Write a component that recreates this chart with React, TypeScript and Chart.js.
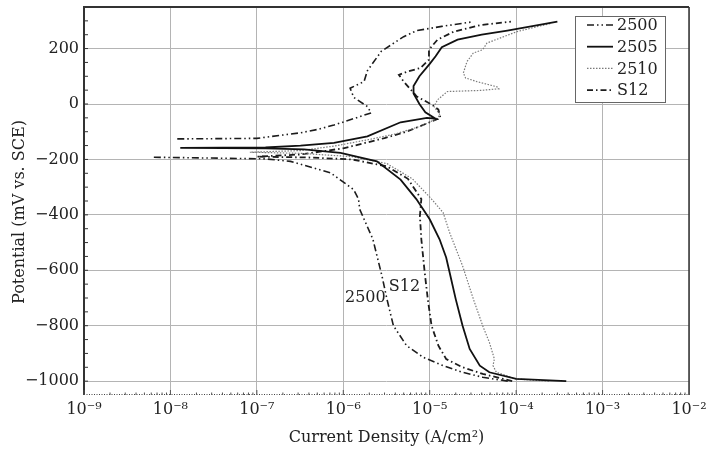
import React, { useEffect, useRef } from "react";
import { Chart, registerables } from "chart.js";

Chart.register(...registerables);

const FONT = "'DejaVu Serif', 'Liberation Serif', serif";
const INK = "#222222";

// ---- data (current density in A/cm², potential in mV vs. SCE) ----
const seriesNames = ["2500", "2505", "2510", "S12"];

const current2500 = [8.0e-5, 4.1e-5, 2.4e-5, 1.43e-5, 8.4e-6, 5.4e-6, 3.8e-6, 3.2e-6, 2.8e-6, 2.2e-6, 1.55e-6, 1.5e-6, 1.32e-6, 7.1e-7, 2.45e-7, 1.26e-7, 6.3e-9, 1.0e-8, 1.2e-8, 1.0e-7, 2.0e-7, 3.2e-7, 5.0e-7, 7.8e-7, 1.2e-6, 2.1e-6, 1.9e-6, 1.32e-6, 1.2e-6, 1.74e-6, 1.9e-6, 2.75e-6, 5.0e-6, 7.1e-6, 1.38e-5, 3.2e-5];
const potential2500 = [-1000, -986, -968, -944, -914, -872, -800, -704, -620, -488, -380, -343, -309, -248, -207, -198, -192, null, -126, -124, -112, -104, -92, -76, -57, -32, -9, 24, 57, 81, 120, 190, 243, 265, 280, 297];

const current2505 = [3.8e-4, 1.0e-4, 4.9e-5, 3.8e-5, 2.9e-5, 2.4e-5, 2.0e-5, 1.7e-5, 1.55e-5, 1.3e-5, 1.0e-5, 7.0e-6, 4.6e-6, 2.45e-6, 9.3e-7, 3.5e-7, 1.26e-7, 1.3e-8, 1.26e-7, 3.2e-7, 7.8e-7, 1.9e-6, 4.6e-6, 9.3e-6, 1.17e-5, 8.9e-6, 7.6e-6, 6.5e-6, 6.5e-6, 7.6e-6, 1.0e-5, 1.17e-5, 1.38e-5, 2.1e-5, 4.0e-5, 7.9e-5, 1.6e-4, 3.0e-4];
const potential2505 = [-1000, -992, -968, -944, -884, -800, -704, -608, -554, -488, -416, -343, -273, -207, -176, -164, -160, -158, -157, -150, -140, -117, -66, -50, -53, -30, 0, 38, 65, 100, 145, 172, 205, 232, 250, 265, 282, 297];

const current2510 = [2.4e-4, 1.0e-4, 5.9e-5, 5.4e-5, 5.6e-5, 4.9e-5, 4.1e-5, 3.2e-5, 2.4e-5, 1.7e-5, 1.43e-5, 1.05e-5, 6.3e-6, 3.2e-6, 1.26e-6, 3.2e-7, 8.3e-8, 3.2e-7, 7.8e-7, 2.0e-6, 4.0e-6, 7.9e-6, 1.17e-5, 1.32e-5, 1.12e-5, 1.23e-5, 1.6e-5, 3.9e-5, 6.3e-5, 6.0e-5, 3.5e-5, 2.6e-5, 2.45e-5, 2.7e-5, 3.2e-5, 4.1e-5, 4.6e-5, 1.02e-4, 1.8e-4, 2.5e-4];
const potential2510 = [-1000, -992, -968, -944, -920, -860, -800, -704, -584, -464, -392, -343, -270, -215, -190, -178, -174, -168, -152, -128, -108, -80, -55, -40, -9, 15, 45, 49, 55, 62, 81, 94, 112, 153, 184, 196, 220, 261, 280, 290];

const currentS12 = [9.0e-5, 7.1e-5, 4.1e-5, 2.4e-5, 1.55e-5, 1.26e-5, 1.05e-5, 9.5e-6, 8.75e-6, 8.0e-6, 7.7e-6, 8.0e-6, 5.6e-6, 3.2e-6, 1.26e-6, 4.0e-7, 1.0e-7, 3.2e-7, 1.0e-6, 3.0e-6, 5.5e-6, 8.5e-6, 1.33e-5, 1.26e-5, 1.07e-5, 7.1e-6, 5.0e-6, 4.4e-6, 5.5e-6, 7.8e-6, 9.8e-6, 9.8e-6, 1.23e-5, 1.9e-5, 3.9e-5, 8.7e-5];
const potentialS12 = [-1000, -992, -974, -950, -920, -872, -800, -704, -608, -488, -404, -343, -270, -225, -200, -193, -190, -182, -160, -123, -99, -75, -50, -20, -3, 27, 81, 105, 117, 130, 160, 196, 232, 261, 285, 297];

const xTickExponents = [-9, -8, -7, -6, -5, -4, -3, -2];
const yTickValues = [-1000, -800, -600, -400, -200, 0, 200];

const noteTexts = ["2500", "S12"];
const noteCurrents = [1.8e-6, 5.1e-6];
const notePotentials = [-701, -660];

const xTitle = "Current Density (A/cm\u00B2)";
const yTitle = "Potential (mV vs. SCE)";

// ---- helpers ----
const toPoints = (cur: number[], pot: (number | null)[]) =>
  cur.map((x, i) => ({ x, y: pot[i] }));

const SUP: Record<string, string> = {
  "-": "\u207B", "0": "\u2070", "1": "\u00B9", "2": "\u00B2", "3": "\u00B3",
  "4": "\u2074", "5": "\u2075", "6": "\u2076", "7": "\u2077", "8": "\u2078", "9": "\u2079",
};
const sup = (n: number) => String(n).split("").map((c) => SUP[c] || c).join("");

const decorPlugin = {
  id: "decor",
  afterDraw(chart: any) {
    const { ctx, chartArea, scales } = chart;
    const { left, right, top, bottom } = chartArea;
    const xs = scales.x;
    const ys = scales.y;
    ctx.save();

    // frame
    ctx.strokeStyle = "#333";
    ctx.setLineDash([]);
    ctx.lineWidth = 2;
    ctx.beginPath();
    ctx.moveTo(left, bottom);
    ctx.lineTo(left, top);
    ctx.lineTo(right, top);
    ctx.stroke();
    ctx.lineWidth = 1.5;
    ctx.beginPath();
    ctx.moveTo(right, top);
    ctx.lineTo(right, bottom);
    ctx.stroke();

    // bottom dotted axis
    ctx.strokeStyle = "#444";
    ctx.lineWidth = 1;
    ctx.setLineDash([1, 1.5]);
    ctx.beginPath();
    ctx.moveTo(left, bottom - 0.5);
    ctx.lineTo(right, bottom - 0.5);
    ctx.stroke();
    ctx.setLineDash([]);
    // minor log ticks on bottom axis
    ctx.lineWidth = 1;
    ctx.strokeStyle = "#555";
    for (let e = -9; e < -2; e++) {
      for (let m = 1; m <= 9; m++) {
        const px = xs.getPixelForValue(m * Math.pow(10, e));
        const len = m === 1 ? 5 : 2.5;
        ctx.beginPath();
        ctx.moveTo(px, bottom);
        ctx.lineTo(px, bottom - len);
        ctx.stroke();
      }
    }
    // minor ticks on left axis
    ctx.strokeStyle = "#333";
    for (let v = -1050; v <= 350; v += 50) {
      const py = ys.getPixelForValue(v);
      if (py < top + 2 || py > bottom - 2) continue;
      ctx.beginPath();
      ctx.moveTo(left, py);
      ctx.lineTo(left + 4, py);
      ctx.stroke();
    }

    // y title
    ctx.fillStyle = INK;
    ctx.font = `16px ${FONT}`;
    ctx.textAlign = "center";
    ctx.textBaseline = "middle";
    ctx.save();
    ctx.translate(20, 212);
    ctx.rotate(-Math.PI / 2);
    ctx.fillText(yTitle, 0, 0);
    ctx.restore();

    // curve notes
    noteTexts.forEach((t, i) => {
      const px = xs.getPixelForValue(noteCurrents[i]);
      const py = ys.getPixelForValue(notePotentials[i]);
      ctx.fillStyle = INK;
      ctx.font = `16px ${FONT}`;
      ctx.textAlign = "center";
      ctx.textBaseline = "middle";
      ctx.fillText(t, px, py);
    });

    // legend
    const bx = right - 114;
    const by = top + 9;
    const bw = 90;
    const bh = 86;
    ctx.fillStyle = "#ffffff";
    ctx.fillRect(bx, by, bw, bh);
    ctx.strokeStyle = "#666";
    ctx.lineWidth = 1;
    ctx.setLineDash([]);
    ctx.strokeRect(bx + 0.5, by + 0.5, bw, bh);
    chart.data.datasets.forEach((ds: any, i: number) => {
      const ly = by + 9 + i * 21.7;
      ctx.strokeStyle = ds.borderColor;
      ctx.lineWidth = ds.borderWidth;
      ctx.setLineDash(ds.borderDash || []);
      ctx.beginPath();
      ctx.moveTo(bx + 12, ly);
      ctx.lineTo(bx + 38, ly);
      ctx.stroke();
      ctx.setLineDash([]);
      ctx.fillStyle = INK;
      ctx.font = `16px ${FONT}`;
      ctx.textAlign = "left";
      ctx.textBaseline = "middle";
      ctx.fillText(ds.label, bx + 42, ly + 1);
    });

    ctx.restore();
  },
};

export default function App() {
  const ref = useRef<HTMLCanvasElement | null>(null);

  useEffect(() => {
    if (!ref.current) return;
    const chart = new Chart(ref.current, {
      type: "line",
      data: {
        datasets: [
          {
            label: seriesNames[0],
            data: toPoints(current2500, potential2500),
            borderColor: "#1c1c1c",
            borderWidth: 1.6,
            borderDash: [7, 3, 1.5, 3, 1.5, 3],
          },
          {
            label: seriesNames[1],
            data: toPoints(current2505, potential2505),
            borderColor: "#111111",
            borderWidth: 1.8,
          },
          {
            label: seriesNames[2],
            data: toPoints(current2510, potential2510),
            borderColor: "#7a7a7a",
            borderWidth: 1.2,
            borderDash: [1.5, 1.5],
          },
          {
            label: seriesNames[3],
            data: toPoints(currentS12, potentialS12),
            borderColor: "#1c1c1c",
            borderWidth: 1.8,
            borderDash: [6, 3, 1.5, 3],
          },
        ] as any,
      },
      options: {
        responsive: false,
        animation: false,
        parsing: true,
        spanGaps: false,
        layout: { padding: { top: 7, right: 17, left: 0, bottom: 0 } },
        elements: {
          point: { radius: 0 },
          line: { tension: 0, fill: false },
        },
        plugins: {
          legend: { display: false },
          tooltip: { enabled: false },
        },
        scales: {
          x: {
            type: "logarithmic",
            min: 1e-9,
            max: 1e-2,
            afterBuildTicks: (s: any) => {
              s.ticks = xTickExponents.map((e) => ({ value: Math.pow(10, e), major: true }));
            },
            afterFit: (s: any) => {
              s.height = 57;
              s.paddingLeft = 0;
              s.paddingRight = 0;
              s.paddingTop = 0;
              s.paddingBottom = 0;
            },
            ticks: {
              autoSkip: false,
              maxRotation: 0,
              padding: 5,
              color: INK,
              font: { family: FONT, size: 16 },
              callback: (v: any) => "10" + sup(Math.round(Math.log10(Number(v)))),
            },
            grid: { color: "#b4b4b4", lineWidth: 1, drawTicks: false },
            border: { display: false },
            title: {
              display: true,
              text: xTitle,
              color: INK,
              font: { family: FONT, size: 16 },
              padding: { top: 0, bottom: 5 },
            },
          },
          y: {
            type: "linear",
            min: -1050,
            max: 350,
            afterBuildTicks: (s: any) => {
              s.ticks = yTickValues.map((v) => ({ value: v }));
            },
            afterFit: (s: any) => {
              s.width = 84;
              s.paddingLeft = 0;
              s.paddingRight = 0;
              s.paddingTop = 0;
              s.paddingBottom = 0;
            },
            ticks: {
              padding: 5,
              color: INK,
              font: { family: FONT, size: 16 },
              callback: (v: any) => (Number(v) < 0 ? "\u2212" + Math.abs(Number(v)) : String(v)),
            },
            grid: { color: "#b4b4b4", lineWidth: 1, drawTicks: false },
            border: { display: false },
          },
        },
      } as any,
      plugins: [decorPlugin],
    });
    return () => chart.destroy();
  }, []);

  return (
    <div style={{ position: "fixed", left: 0, top: 0, width: 706, height: 452, background: "#fff" }}>
      <canvas ref={ref} width={706} height={452} style={{ display: "block" }} />
    </div>
  );
}
